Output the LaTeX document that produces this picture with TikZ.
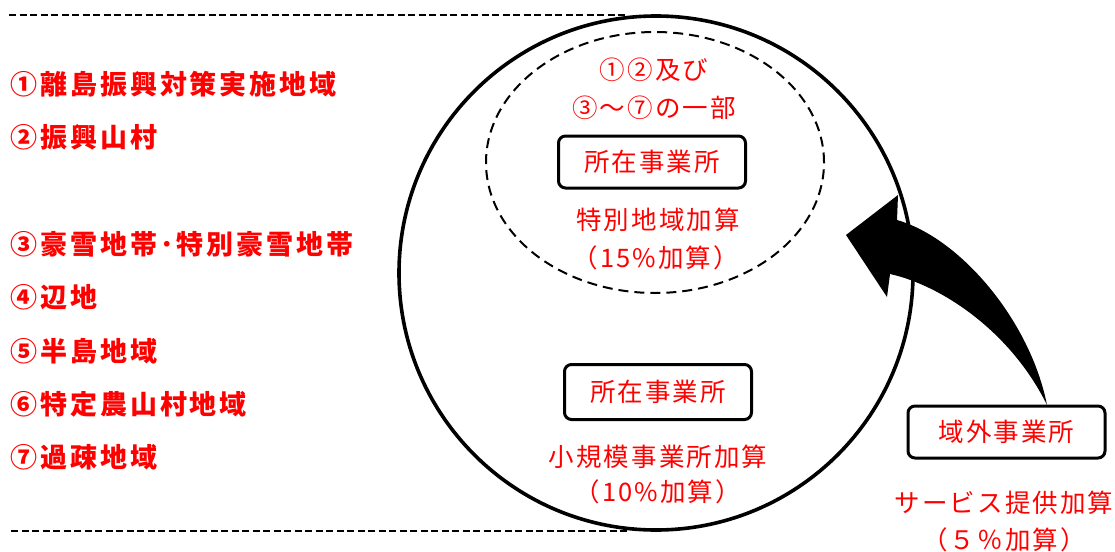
\documentclass[tikz,border=0pt]{standalone}
\usepackage{fontspec}
\setmainfont{Noto Sans CJK JP}
\newfontfamily\jpin[LetterSpace=8]{Noto Sans CJK JP}
\newfontfamily\jplist[LetterSpace=11]{Noto Sans CJK JP}
\definecolor{txtred}{RGB}{255,0,0}
\begin{document}
\begin{tikzpicture}[x=1pt,y=-1pt,
  listtext/.style={anchor=west,inner sep=0pt,text=txtred,font=\jplist\bfseries\fontsize{27}{30}\selectfont},
  intext/.style={inner sep=0pt,text=txtred,font=\jpin\fontsize{25.5}{28}\selectfont,align=center},
  officebox/.style={draw,line width=3pt,rounded corners=7pt,inner sep=0pt,text=txtred,font=\jpin\fontsize{25.5}{28}\selectfont},
  sepline/.style={line width=2pt,dash pattern=on 7pt off 3.5pt},
]
\useasboundingbox (0,0) rectangle (1115,551);
% separator lines
\coordinate (tl) at (9,15.5);
\coordinate (tr) at (625,15.5);
\coordinate (bl) at (11,531);
\coordinate (br) at (627,531);
\draw[sepline] (tl) -- (tr);
\draw[sepline] (bl) -- (br);
% big circle and inner dashed ellipse
\draw[line width=3.6pt] (656,273) circle [radius=257pt];
\draw[line width=2pt,dash pattern=on 10pt off 6pt] (655,162.5) ellipse [x radius=169pt,y radius=130.5pt];
% left list
\node[listtext] (l1) at (10,84) {①離島振興対策実施地域};
\node[listtext] (l2) at (10,137) {②振興山村};
\node[listtext] (l3) at (10,244) {③豪雪地帯･特別豪雪地帯};
\node[listtext] (l4) at (10,297) {④辺地};
\node[listtext] (l5) at (10,351) {⑤半島地域};
\node[listtext] (l6) at (10,404) {⑥特定農山村地域};
\node[listtext] (l7) at (10,457) {⑦過疎地域};
% inner region
\node[intext] (t1) at (654,70) {①②及び};
\node[intext] (t2) at (654,108) {③～⑦の一部};
\node[officebox,minimum width=187pt,minimum height=52pt] (o1) at (652,162) {所在事業所};
\node[intext] (t3) at (658,220) {特別地域加算};
\node[intext] (t4) at (656,258) {（15\%加算）};
% outer region
\node[officebox,minimum width=187pt,minimum height=55pt] (o2) at (658,392) {所在事業所};
\node[intext] (t5) at (658,457) {小規模事業所加算};
\node[intext] (t6) at (658,492) {（10\%加算）};
% external office
\node[officebox,minimum width=197pt,minimum height=52pt] (o3) at (1006.5,432) {域外事業所};
\node[intext] (t7) at (1004,503) {サービス提供加算};
\node[intext] (t8) at (1004,540) {（５％加算）};
% curved block arrow
\coordinate (tail) at (1047,405);
\coordinate (tip) at (846,235);
\fill (897,220) -- (898,195) -- (tip) -- (887,297) -- (890,274)
  .. controls (940,285) and (1010,330) .. (tail)
  .. controls (1030,320) and (960,238) .. (897,220) -- cycle;
\end{tikzpicture}
\end{document}
